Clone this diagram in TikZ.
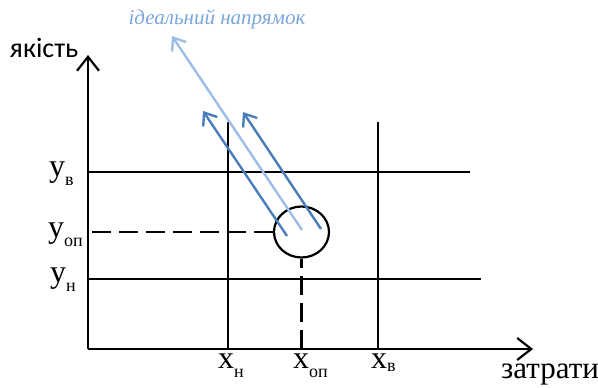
\documentclass[tikz,border=0pt]{standalone}
\usepackage{fontspec}
\setmainfont{Liberation Serif}
\newfontfamily\calfont{Carlito}
\usetikzlibrary{arrows.meta,shapes.geometric}
\definecolor{darkblue}{HTML}{4A7EBB}
\definecolor{lightblue}{HTML}{9DBDE6}
\definecolor{labelblue}{HTML}{7AA6DE}
\tikzset{
  axisline/.style={line width=2.2pt,-{Straight Barb[length=14pt,width=22pt,line width=2.2pt]}},
  gridline/.style={line width=2.2pt},
  dashline/.style={line width=2.2pt,dash pattern=on 19pt off 8pt},
  bluearrow/.style={darkblue,line width=2.4pt,-{Straight Barb[length=11pt,width=17pt,line width=2.4pt]}},
  lightarrow/.style={lightblue,line width=2.4pt,-{Straight Barb[length=11pt,width=17pt,line width=2.4pt]}},
  lbl/.style={inner sep=0pt,font=\fontsize{32}{32}\selectfont},
}
\newcommand{\subl}[1]{\raisebox{-9pt}{\fontsize{18}{18}\selectfont #1}}
\begin{document}
\begin{tikzpicture}[x=1pt,y=-1pt]
\useasboundingbox (0,0) rectangle (598,388);
% axes
\coordinate (O) at (88,349);
\coordinate (ytip) at (88,55);
\coordinate (xtip) at (533,349);
\draw[axisline] (O) -- (ytip);
\draw[axisline] (O) -- (xtip);
% grid lines
\coordinate (yvL) at (88,172); \coordinate (yvR) at (470,172);
\coordinate (ynL) at (88,279); \coordinate (ynR) at (481,279);
\coordinate (xnT) at (228,122); \coordinate (xnB) at (228,349);
\coordinate (xvT) at (378,122); \coordinate (xvB) at (378,349);
\draw[gridline] (yvL) -- (yvR);
\draw[gridline] (ynL) -- (ynR);
\draw[gridline] (xnT) -- (xnB);
\draw[gridline] (xvT) -- (xvB);
% optimum ellipse
\node[ellipse,draw,line width=2.2pt,minimum width=55pt,minimum height=51pt,inner sep=0pt] (opt) at (301.5,232) {};
\coordinate (yopL) at (88,232);
\coordinate (xopB) at (301.5,349);
\draw[dashline] (opt.west) -- (yopL);
\draw[dashline] (xopB) -- (opt.south);
% arrows
\coordinate (a1s) at (287,236); \coordinate (a1e) at (203,111);
\coordinate (a2s) at (321,229); \coordinate (a2e) at (243,112);
\coordinate (a3s) at (302,230); \coordinate (a3e) at (172,36);
\draw[lightarrow] (a3s) -- (a3e);
\draw[bluearrow] (a1s) -- (a1e);
\draw[bluearrow] (a2s) -- (a2e);
% labels
\node[labelblue,inner sep=0pt,font=\fontsize{21}{21}\selectfont\itshape] (ideal) at (217,19) {ідеальний напрямок};
\node[inner sep=0pt,font=\calfont\fontsize{28}{28}\selectfont] (quality) at (44,48) {якість};
\node[inner sep=0pt,font=\fontsize{31}{31}\selectfont] (costs) at (550,374) {затрати};
\node[lbl,anchor=base west] (yv) at (49,176) {у\subl{в}};
\node[lbl,anchor=base west] (yop) at (48,237) {у\subl{оп}};
\node[lbl,anchor=base west] (yn) at (50,282) {у\subl{н}};
\node[lbl,anchor=base west] (xn) at (218,368) {х\subl{н}};
\node[lbl,anchor=base west] (xop) at (293,368) {х\subl{оп}};
\node[lbl,anchor=base west] (xv) at (371,368) {х\raisebox{-3pt}{\fontsize{18}{18}\selectfont в}};
\end{tikzpicture}
\end{document}
